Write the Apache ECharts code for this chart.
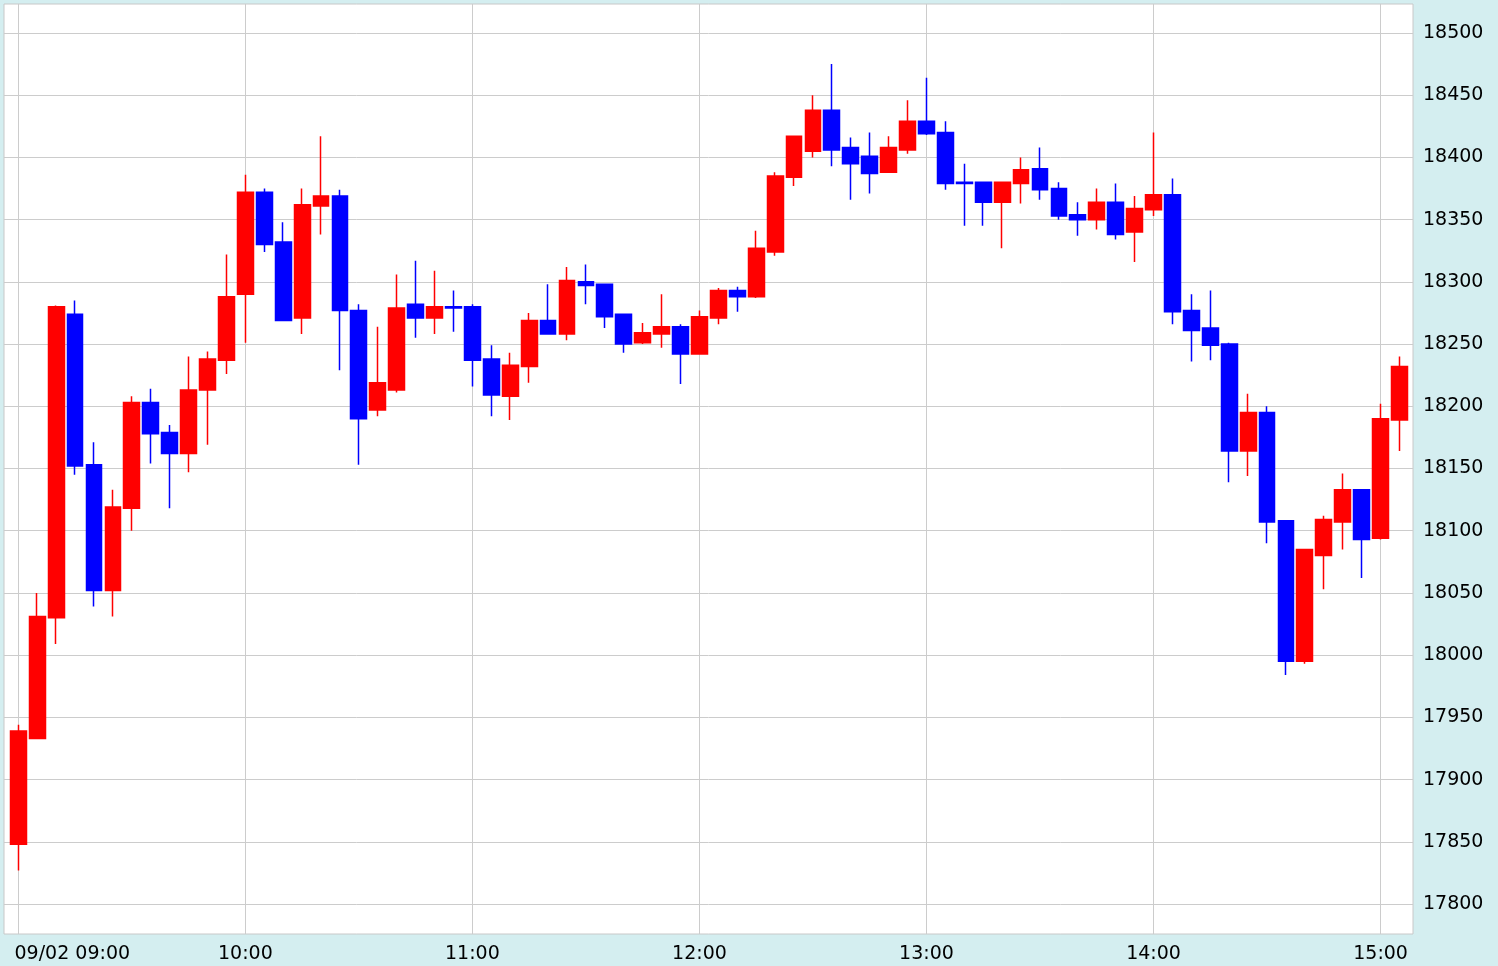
<!DOCTYPE html>
<html>
<head>
<meta charset="utf-8">
<script src="https://cdn.jsdelivr.net/npm/echarts@6/dist/echarts.min.js"></script>
<style>
html,body{margin:0;padding:0;background:#d4eef0;}
#chart{width:1498px;height:966px;}
</style>
</head>
<body>
<div id="chart"></div>
<script>
const dateLabel = '09/02';
const times = [
'09:00','09:05','09:10','09:15','09:20','09:25','09:30','09:35','09:40','09:45','09:50','09:55',
'10:00','10:05','10:10','10:15','10:20','10:25','10:30','10:35','10:40','10:45','10:50','10:55',
'11:00','11:05','11:10','11:15','11:20','11:25','11:30','11:35','11:40','11:45','11:50','11:55',
'12:00','12:05','12:10','12:15','12:20','12:25','12:30','12:35','12:40','12:45','12:50','12:55',
'13:00','13:05','13:10','13:15','13:20','13:25','13:30','13:35','13:40','13:45','13:50','13:55',
'14:00','14:05','14:10','14:15','14:20','14:25','14:30','14:35','14:40','14:45','14:50','14:55',
'15:00','15:05'];
const opens = [
17848,17933,18030,18274,18153,18052,18118,18203,18179,18162,18213,18237,
18290,18372,18332,18271,18361,18369,18277,18197,18213,18282,18271,18280,
18280,18238,18208,18232,18269,18258,18300,18298,18274,18251,18258,18264,
18242,18271,18293,18288,18324,18384,18405,18438,18408,18401,18388,18406,
18429,18420,18380,18380,18364,18379,18391,18375,18354,18350,18364,18340,
18358,18370,18277,18263,18250,18164,18195,18108,17995,18080,18107,18133,
18094,18189];
const closes = [
17939,18031,18280,18152,18052,18119,18203,18178,18162,18213,18238,18288,
18372,18330,18269,18362,18369,18277,18190,18219,18279,18271,18280,18279,
18237,18209,18233,18269,18258,18301,18297,18272,18250,18259,18264,18242,
18272,18293,18288,18327,18385,18417,18438,18406,18395,18387,18408,18429,
18419,18379,18379,18364,18380,18390,18374,18353,18350,18364,18338,18359,
18370,18276,18261,18249,18164,18195,18107,17995,18085,18109,18133,18093,
18190,18232];
const lows = [
17827,17933,18009,18145,18039,18031,18100,18154,18118,18147,18169,18226,
18251,18324,18269,18258,18338,18229,18153,18192,18211,18255,18258,18260,
18216,18192,18189,18219,18258,18253,18282,18263,18243,18250,18247,18218,
18242,18266,18276,18287,18321,18377,18400,18393,18366,18371,18388,18403,
18418,18374,18345,18345,18327,18363,18366,18350,18337,18342,18334,18316,
18353,18266,18236,18237,18139,18144,18090,17984,17993,18053,18085,18062,
18093,18164];
const highs = [
17944,18050,18281,18285,18171,18133,18208,18214,18185,18240,18244,18322,
18386,18375,18348,18375,18417,18374,18282,18264,18306,18317,18309,18293,
18282,18249,18243,18275,18298,18312,18314,18298,18274,18267,18290,18266,
18277,18295,18296,18341,18388,18417,18450,18475,18416,18420,18417,18446,
18464,18429,18395,18380,18380,18400,18408,18380,18364,18375,18379,18369,
18420,18383,18290,18293,18251,18210,18200,18108,18085,18112,18146,18133,
18202,18240];
const yTicks = {min: 17800, max: 18500, step: 50};

const candles = times.map((t, i) => [opens[i], closes[i], lows[i], highs[i]]);

const FONT = 'DejaVu Sans';
const chart = echarts.init(document.getElementById('chart'), null, {renderer: 'canvas'});
chart.setOption({
  backgroundColor: '#d4eef0',
  animation: false,
  grid: [
    {left: 4, right: 85, top: 4, bottom: 32, show: true, backgroundColor: '#ffffff', borderColor: '#c8c8c8', borderWidth: 1, containLabel: false},
    {left: 4, right: 85, top: 33, bottom: 62, containLabel: false},
    {left: 18.3, right: 98.5, top: 33, bottom: 62, containLabel: false},
    {left: 18.3, right: 98.5, top: 4, bottom: 32, containLabel: false}
  ],
  xAxis: [
    {gridIndex: 0, type: 'value', show: false},
    {gridIndex: 1, type: 'value', show: false},
    {gridIndex: 2, type: 'category', data: times, boundaryGap: false, show: false},
    {gridIndex: 3, type: 'category', data: times, boundaryGap: false,
      axisLine: {show: false}, axisTick: {show: false},
      splitLine: {show: true, interval: 11, lineStyle: {color: '#cccccc', width: 1}},
      axisLabel: {
        interval: 11, margin: 11, color: '#000', fontFamily: FONT, fontSize: 19,
        formatter: function (v, i) { return i === 0 ? '{first|' + dateLabel + ' ' + v + '}' : v; },
        rich: {first: {padding: [0, 0, 0, 108], color: '#000', fontFamily: FONT, fontSize: 19}}
      }
    }
  ],
  yAxis: [
    {gridIndex: 0, type: 'value', show: false},
    {gridIndex: 1, type: 'value', position: 'right', min: yTicks.min, max: yTicks.max, interval: yTicks.step,
      axisLine: {show: false}, axisTick: {show: false},
      splitLine: {show: true, lineStyle: {color: '#cccccc', width: 1}},
      axisLabel: {margin: 10, color: '#000', fontFamily: FONT, fontSize: 19,
        formatter: function (v) { return String(v); }}
    },
    {gridIndex: 2, type: 'value', min: yTicks.min, max: yTicks.max, show: false},
    {gridIndex: 3, type: 'value', show: false}
  ],
  series: [{
    type: 'candlestick',
    xAxisIndex: 2,
    yAxisIndex: 2,
    clip: false,
    barWidth: 16.3,
    data: candles,
    itemStyle: {
      color: '#ff0000', color0: '#0000ff',
      borderColor: '#ff0000', borderColor0: '#0000ff',
      borderWidth: 1.5
    }
  }]
});
</script>
</body>
</html>
